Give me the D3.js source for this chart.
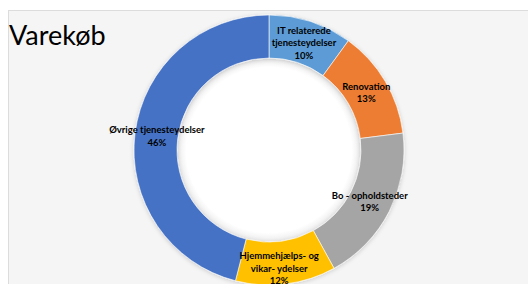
<!DOCTYPE html>
<html>
<head>
<meta charset="utf-8">
<script src="https://cdn.jsdelivr.net/npm/d3@7"></script>
<style>
  html, body { margin: 0; padding: 0; background: #fff; overflow: hidden; }
  svg { display: block; }
</style>
</head>
<body>
<svg id="chart"></svg>
<script>
// Data
const categories = ["IT relaterede tjenesteydelser", "Renovation", "Bo - opholdsteder", "Hjemmehjælps- og vikar- ydelser", "Øvrige tjenesteydelser"];
const shares = [10, 13, 19, 12, 46];
const labelLines = [
    ["IT relaterede", "tjenesteydelser"],
    ["Renovation"],
    ["Bo - opholdsteder"],
    ["Hjemmehjælps- og", "vikar- ydelser"],
    ["Øvrige tjenesteydelser"]
];
const colors = ["#5B9BD5", "#ED7D31", "#A5A5A5", "#FFC000", "#4472C4"];

const width = 528;
const height = 284;

const svg = d3.select("#chart")
    .attr("width", width)
    .attr("height", height);

const defs = svg.append("defs");
// soft inner shadow of the hole
const hole = defs.append("radialGradient").attr("id", "hole");
hole.append("stop").attr("offset", "0.9").attr("stop-color", "#ffffff");
hole.append("stop").attr("offset", "1").attr("stop-color", "#ebebeb");

const shadow = defs.append("filter").attr("id", "shadow")
    .attr("x", "-10%").attr("y", "-10%").attr("width", "120%").attr("height", "120%");
shadow.append("feDropShadow")
    .attr("dx", 0).attr("dy", 1)
    .attr("stdDeviation", 2)
    .attr("flood-color", "#000")
    .attr("flood-opacity", 0.18);

// chart area
svg.append("rect")
    .attr("x", 8.5).attr("y", 10.5)
    .attr("width", width).attr("height", height)
    .attr("fill", "#f5f5f5")
    .attr("stroke", "#dcdcdc");

const cx = 269, cy = 150;
const outerR = 135, innerR = 92;

const g = svg.append("g")
    .attr("transform", `translate(${cx},${cy})`);

const pie = d3.pie().sort(null).value(d => d.value);
const arc = d3.arc().innerRadius(innerR).outerRadius(outerR);
const labelArc = d3.arc().innerRadius(113).outerRadius(113);

const data = categories.map((c, i) => ({ name: c, value: shares[i], lines: labelLines[i], color: colors[i] }));

g.append("circle")
    .attr("r", innerR)
    .attr("fill", "url(#hole)");

g.append("g")
    .attr("filter", "url(#shadow)")
    .selectAll("path")
    .data(pie(data))
    .enter().append("path")
    .attr("d", arc)
    .attr("fill", d => d.data.color)
    .attr("stroke", "#ffffff")
    .attr("stroke-width", 0.6);

// Excel's best-fit moved this label a little
const labelNudge = { "Hjemmehjælps- og vikar- ydelser": [-4, 6] };

const lineH = 12.5;
const labels = g.selectAll(".lbl")
    .data(pie(data))
    .enter().append("text")
    .attr("class", "lbl")
    .attr("text-anchor", "middle")
    .attr("font-family", "Lato, 'Open Sans', sans-serif")
    .attr("font-weight", "bold")
    .attr("font-size", "9.5px")
    .attr("fill", "#000")
    .attr("transform", d => {
        const [x, y] = labelArc.centroid(d);
        const n = labelNudge[d.data.name] || [0, 0];
        return `translate(${x + n[0]},${y + n[1]})`;
    });

labels.each(function(d) {
    const lines = d.data.lines.concat([d.data.value + "%"]);
    const t = d3.select(this);
    const start = -(lines.length - 1) * lineH / 2 + 3.5;
    lines.forEach((l, i) => {
        t.append("tspan")
            .attr("x", 0)
            .attr("y", start + i * lineH)
            .text(l);
    });
});

svg.append("text")
    .attr("x", 9)
    .attr("y", 45)
    .attr("font-family", "Lato, 'Open Sans', sans-serif")
    .attr("font-size", "27px")
    .attr("fill", "#000")
    .text("Varekøb");
</script>
</body>
</html>
